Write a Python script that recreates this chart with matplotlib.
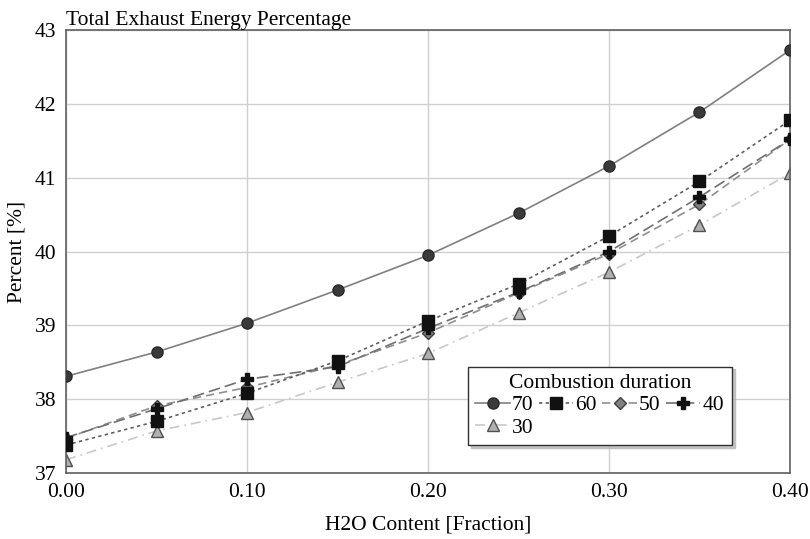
import matplotlib
matplotlib.use("Agg")
import matplotlib.pyplot as plt

# H2O content (fraction) and total exhaust energy percentage per combustion duration
h2o = [0.00, 0.05, 0.10, 0.15, 0.20, 0.25, 0.30, 0.35, 0.40]
dur_70 = [38.31, 38.64, 39.03, 39.48, 39.95, 40.52, 41.16, 41.89, 42.73]
dur_60 = [37.38, 37.70, 38.08, 38.52, 39.06, 39.56, 40.21, 40.95, 41.78]
dur_50 = [37.47, 37.91, 38.16, 38.46, 38.90, 39.44, 39.97, 40.64, 41.52]
dur_40 = [37.48, 37.87, 38.27, 38.44, 38.96, 39.45, 40.00, 40.74, 41.52]
dur_30 = [37.18, 37.57, 37.82, 38.23, 38.62, 39.17, 39.72, 40.36, 41.06]

plt.rcParams['font.family'] = ['Liberation Serif', 'DejaVu Serif']

fig = plt.figure(figsize=(8.1, 5.39), dpi=100)
ax = fig.add_axes([0.0815, 0.1224, 0.8938, 0.8216])

l70, = ax.plot(h2o, dur_70, color='#808080', lw=1.2, ls='-', marker='o', ms=8,
               mfc='#3a3a3a', mec='#2a2a2a', label='70', zorder=5)
l60, = ax.plot(h2o, dur_60, color='#606060', lw=1.2, ls=(0, (2, 2)), marker='s', ms=8,
               mfc='#111111', mec='#111111', label='60', zorder=4)
l50, = ax.plot(h2o, dur_50, color='#909090', lw=1.2, ls=(0, (5, 3)), marker='D', ms=6,
               mfc='#808080', mec='#404040', label='50', zorder=3)
l40, = ax.plot(h2o, dur_40, color='#707070', lw=1.2, ls=(0, (7, 3)), marker='P', ms=8,
               mfc='#111111', mec='#111111', label='40', zorder=3)
l30, = ax.plot(h2o, dur_30, color='#c8c8c8', lw=1.2, ls=(0, (6, 3, 1, 3)), marker='^', ms=8,
               mfc='#b0b0b0', mec='#505050', label='30', zorder=2)

ax.set_xlim(0, 0.40)
ax.set_ylim(37, 43)
ax.set_xticks([0.0, 0.1, 0.2, 0.3, 0.4])
ax.set_xticklabels(['0.00', '0.10', '0.20', '0.30', '0.40'])
ax.set_yticks(range(37, 44))
ax.tick_params(length=0, labelsize=15.5)
ax.tick_params(axis='x', pad=7)
ax.tick_params(axis='y', pad=7)
ax.grid(color='#d0d0d0', lw=1)
ax.set_axisbelow(True)
for s in ax.spines.values():
    s.set_color('#606060')
    s.set_linewidth(1.2)

ax.set_xlabel('H2O Content [Fraction]', fontsize=15.5, labelpad=10)
ax.set_ylabel('Percent [%]', fontsize=15.5, labelpad=6)
ax.set_title('Total Exhaust Energy Percentage', loc='left', fontsize=15.5, pad=1)

leg = ax.legend(handles=[l70, l30, l60, l50, l40], ncol=4, title='Combustion duration',
                loc='lower left', bbox_to_anchor=(0.555, 0.063), borderaxespad=0,
                fontsize=15.5, title_fontsize=15.5, fancybox=False,
                shadow={'color': '#b0b0b0', 'alpha': 0.7},
                framealpha=1, edgecolor='#303030', handlelength=1.6, handletextpad=0.1,
                columnspacing=0.25, borderpad=0.35, labelspacing=0.1)
leg.get_frame().set_linewidth(1.0)

fig.savefig('out.png', dpi=100)
